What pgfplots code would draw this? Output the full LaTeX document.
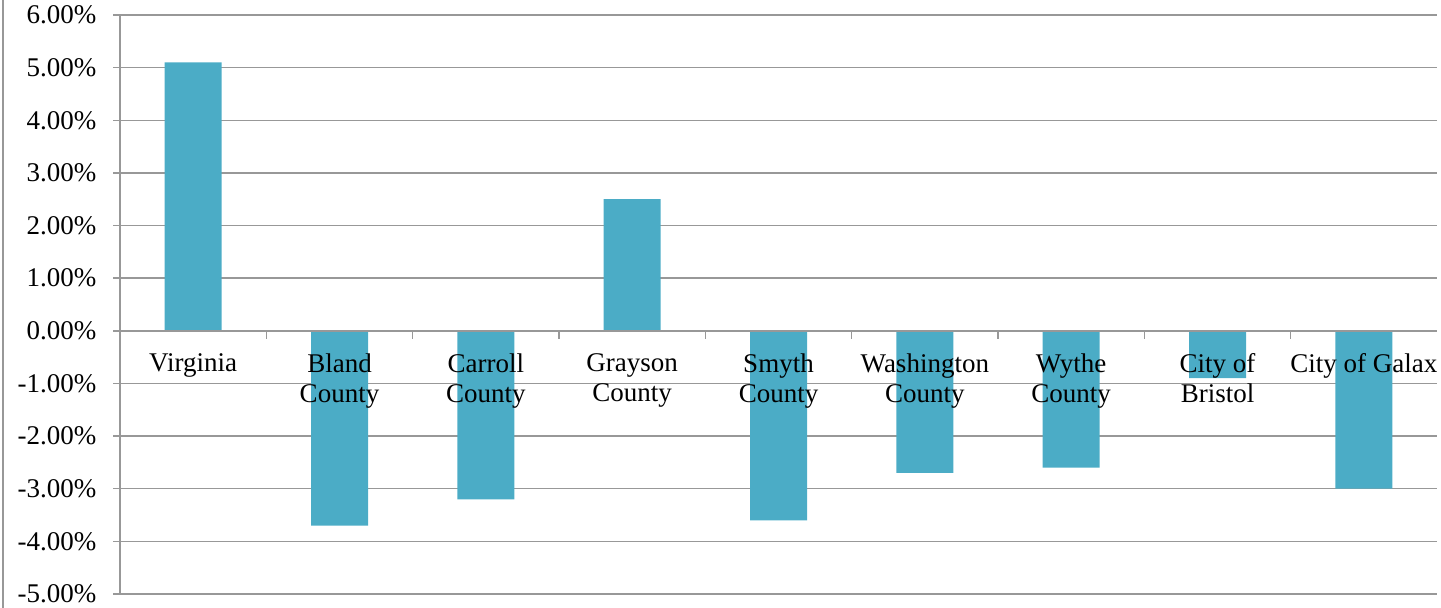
\documentclass[border=0pt]{standalone}
\usepackage{fontspec}
\setmainfont{Liberation Serif}
\usepackage{pgfplots}
\pgfplotsset{compat=1.18}

\definecolor{barblue}{HTML}{4BACC6}
\definecolor{gridgray}{RGB}{152,152,152}

\begin{document}
\begin{tikzpicture}
\begin{axis}[
  set layers,
  at={(120bp,14bp)}, anchor=south west,
  scale only axis,
  width=1317bp, height=579bp,
  xmin=-0.5, xmax=8.5,
  ymin=-5, ymax=6,
  ytick={-5,-4,...,6},
  axis y line*=left,
  axis x line*=middle,
  axis line style={gridgray, line width=1.5bp, -},
  ymajorgrids,
  grid style={gridgray, line width=1.5bp},
  tick align=outside,
  major tick length=7bp,
  minor tick length=8bp,
  tick style={gridgray, line width=1.5bp},
  major x tick style={draw=none},
  xtick={0,...,8},
  minor xtick={0.5,1.5,...,7.5},
  xticklabels={Virginia, Bland\\County, Carroll\\County, Grayson\\County, Smyth\\County, Washington\\County, Wythe\\County, City of\\Bristol, City of Galax},
  xticklabel style={align=center, anchor=north, yshift=-12bp},
  yticklabel style={xshift=-13bp},
  tick label style={font=\fontsize{27bp}{30bp}\selectfont, text=black},
  /pgf/number format/assume math mode=true,
  yticklabel={\pgfmathprintnumber[fixed,fixed zerofill,precision=2]{\tick}\%},
  ybar, bar width=57bp,
]
% bars sit below the tick labels so the category names stay readable
\addplot[on layer=axis ticks, fill=barblue, draw=none] coordinates {
  (0,5.1) (1,-3.7) (2,-3.2) (3,2.5) (4,-3.6) (5,-2.7) (6,-2.6) (7,-0.9) (8,-3.0)
};
\end{axis}
\draw[gridgray, line width=1.5bp] (3bp,0) -- (3bp,608bp);
\pgfresetboundingbox
\useasboundingbox (0,0) rectangle (1441bp,608bp);
\end{tikzpicture}
\end{document}
